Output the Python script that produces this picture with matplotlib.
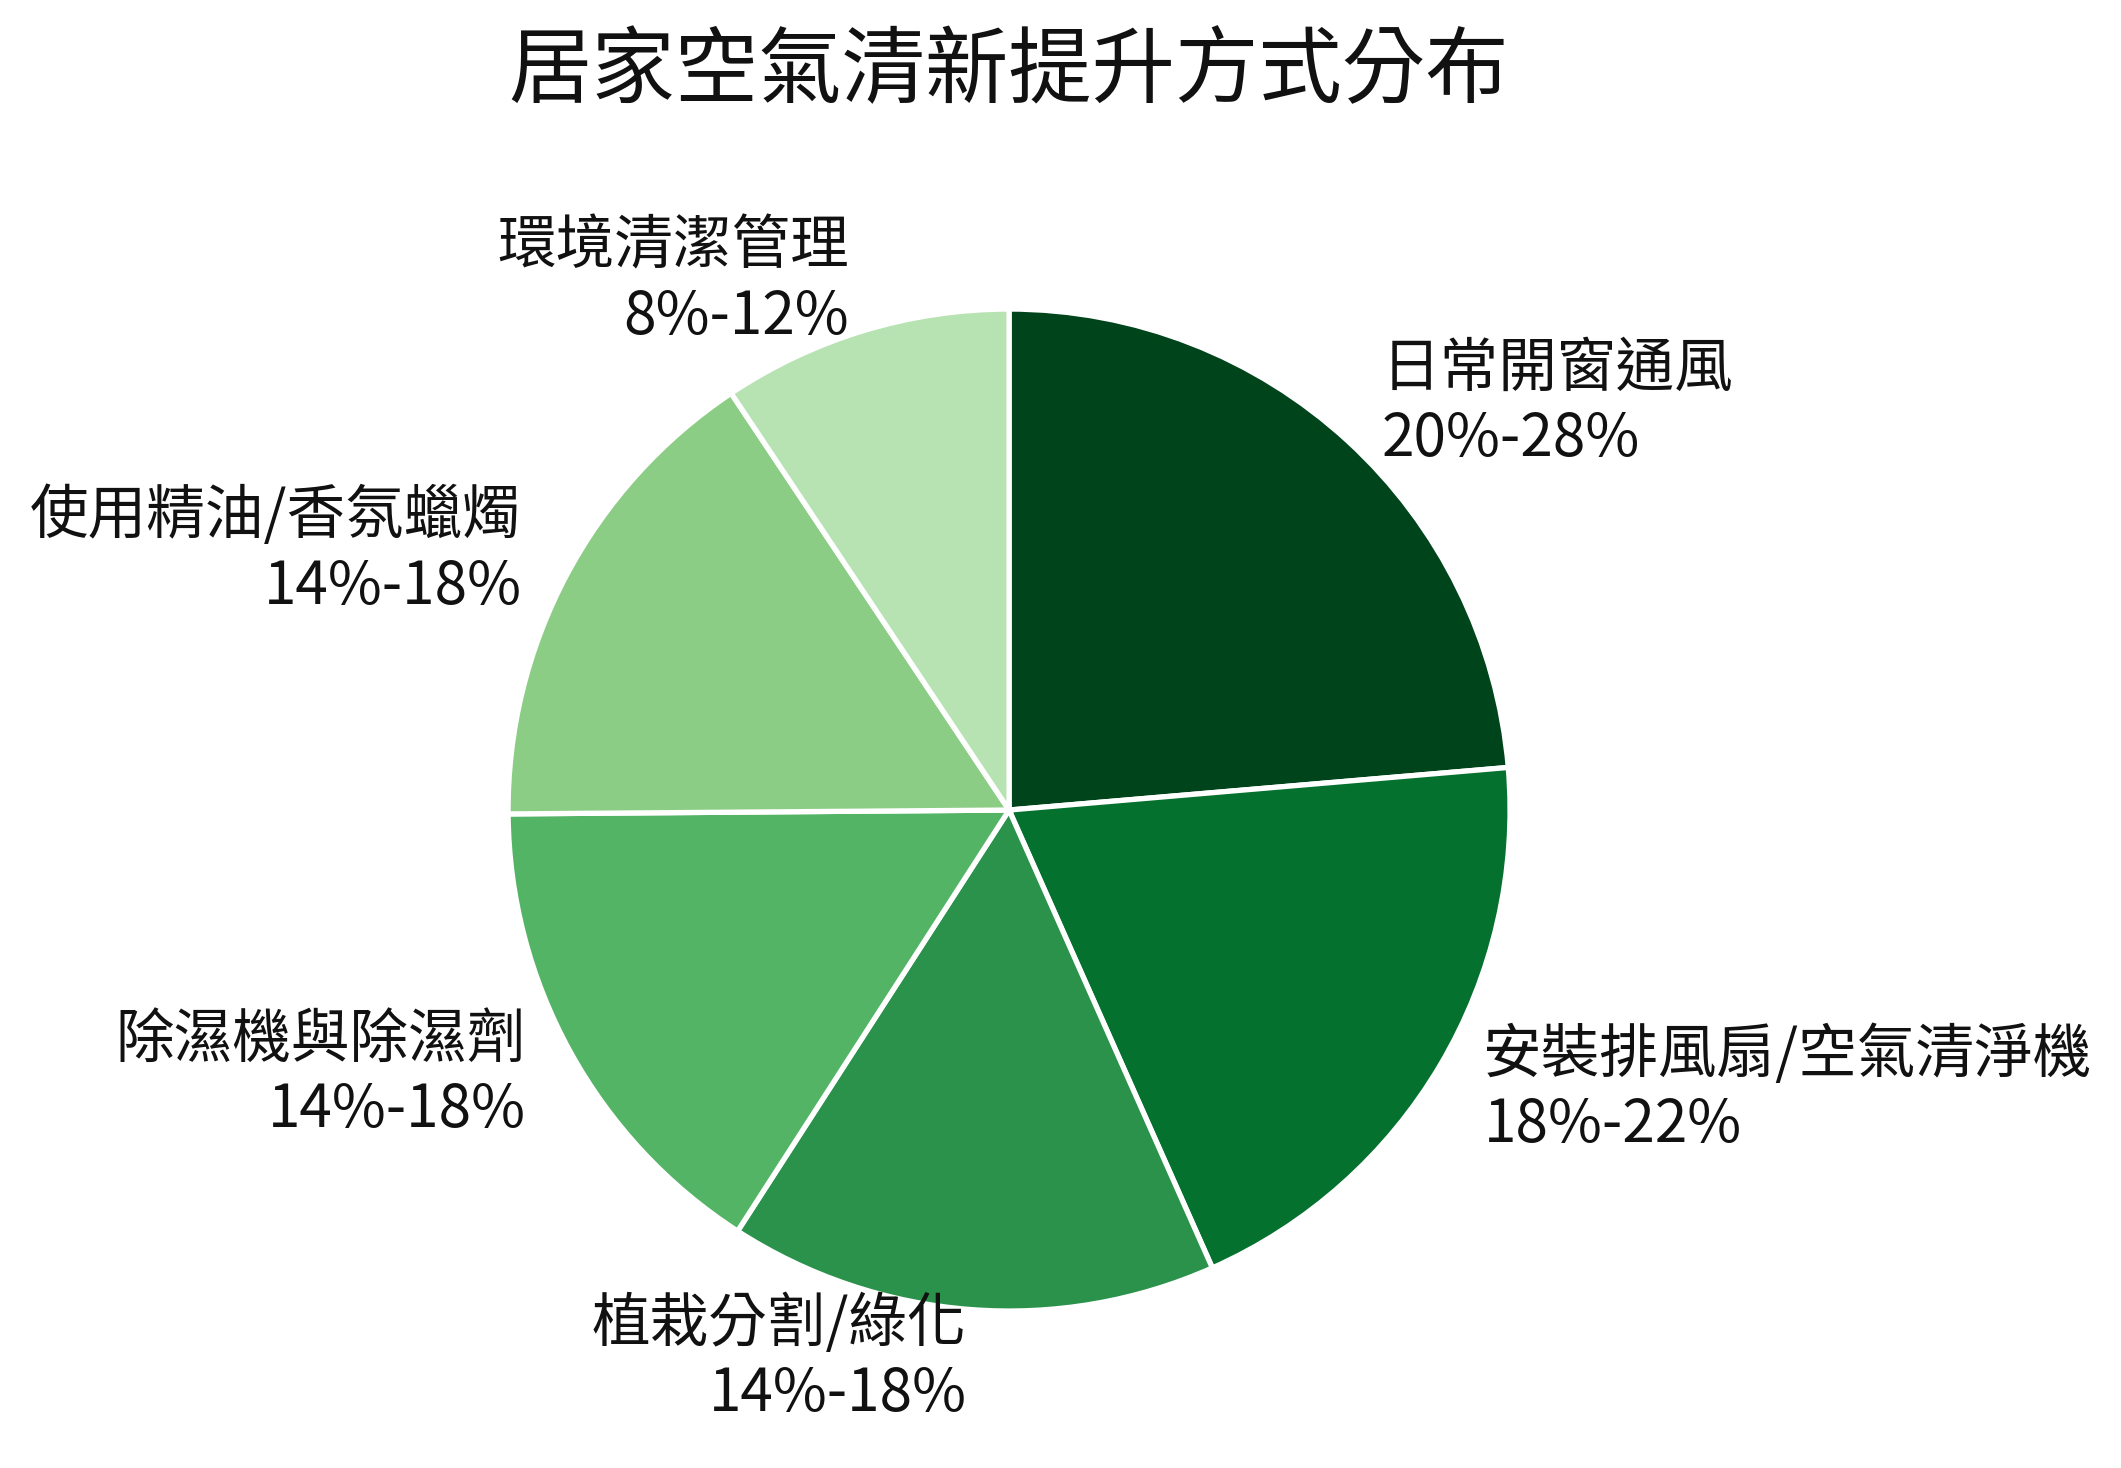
import matplotlib
matplotlib.use("Agg")
import matplotlib.pyplot as plt

plt.rcParams['font.family'] = ['Noto Sans CJK TC', 'DejaVu Sans']

# data (slice sizes)
categories = ['日常開窗通風', '安裝排風扇/空氣清淨機', '植栽分割/綠化',
              '除濕機與除濕劑', '使用精油/香氛蠟燭', '環境清潔管理']
ranges = ['20%-28%', '18%-22%', '14%-18%', '14%-18%', '14%-18%', '8%-12%']
values = [24, 20, 16, 16, 16, 9.5]
colors = ['#00441b', '#05712f', '#2a924a', '#53b466', '#8ccd86', '#b7e2b1']

labels = [c + '\n' + r for c, r in zip(categories, ranges)]

fig = plt.figure(figsize=(21.21, 14.68), dpi=100)
ax = fig.add_axes([0.1805, 0.0216, 0.5905, 0.8532])

ax.pie(values, labels=labels, colors=colors, startangle=90, counterclock=False,
       labeldistance=1.1,
       wedgeprops=dict(edgecolor='white', linewidth=3.8),
       textprops=dict(fontsize=42.2, color='#111111'))

fig.text(0.4757, 0.951, '居家空氣清新提升方式分布', ha='center', va='center',
         fontsize=60, color='#111111')

fig.savefig('out.png', dpi=100, facecolor='white')
